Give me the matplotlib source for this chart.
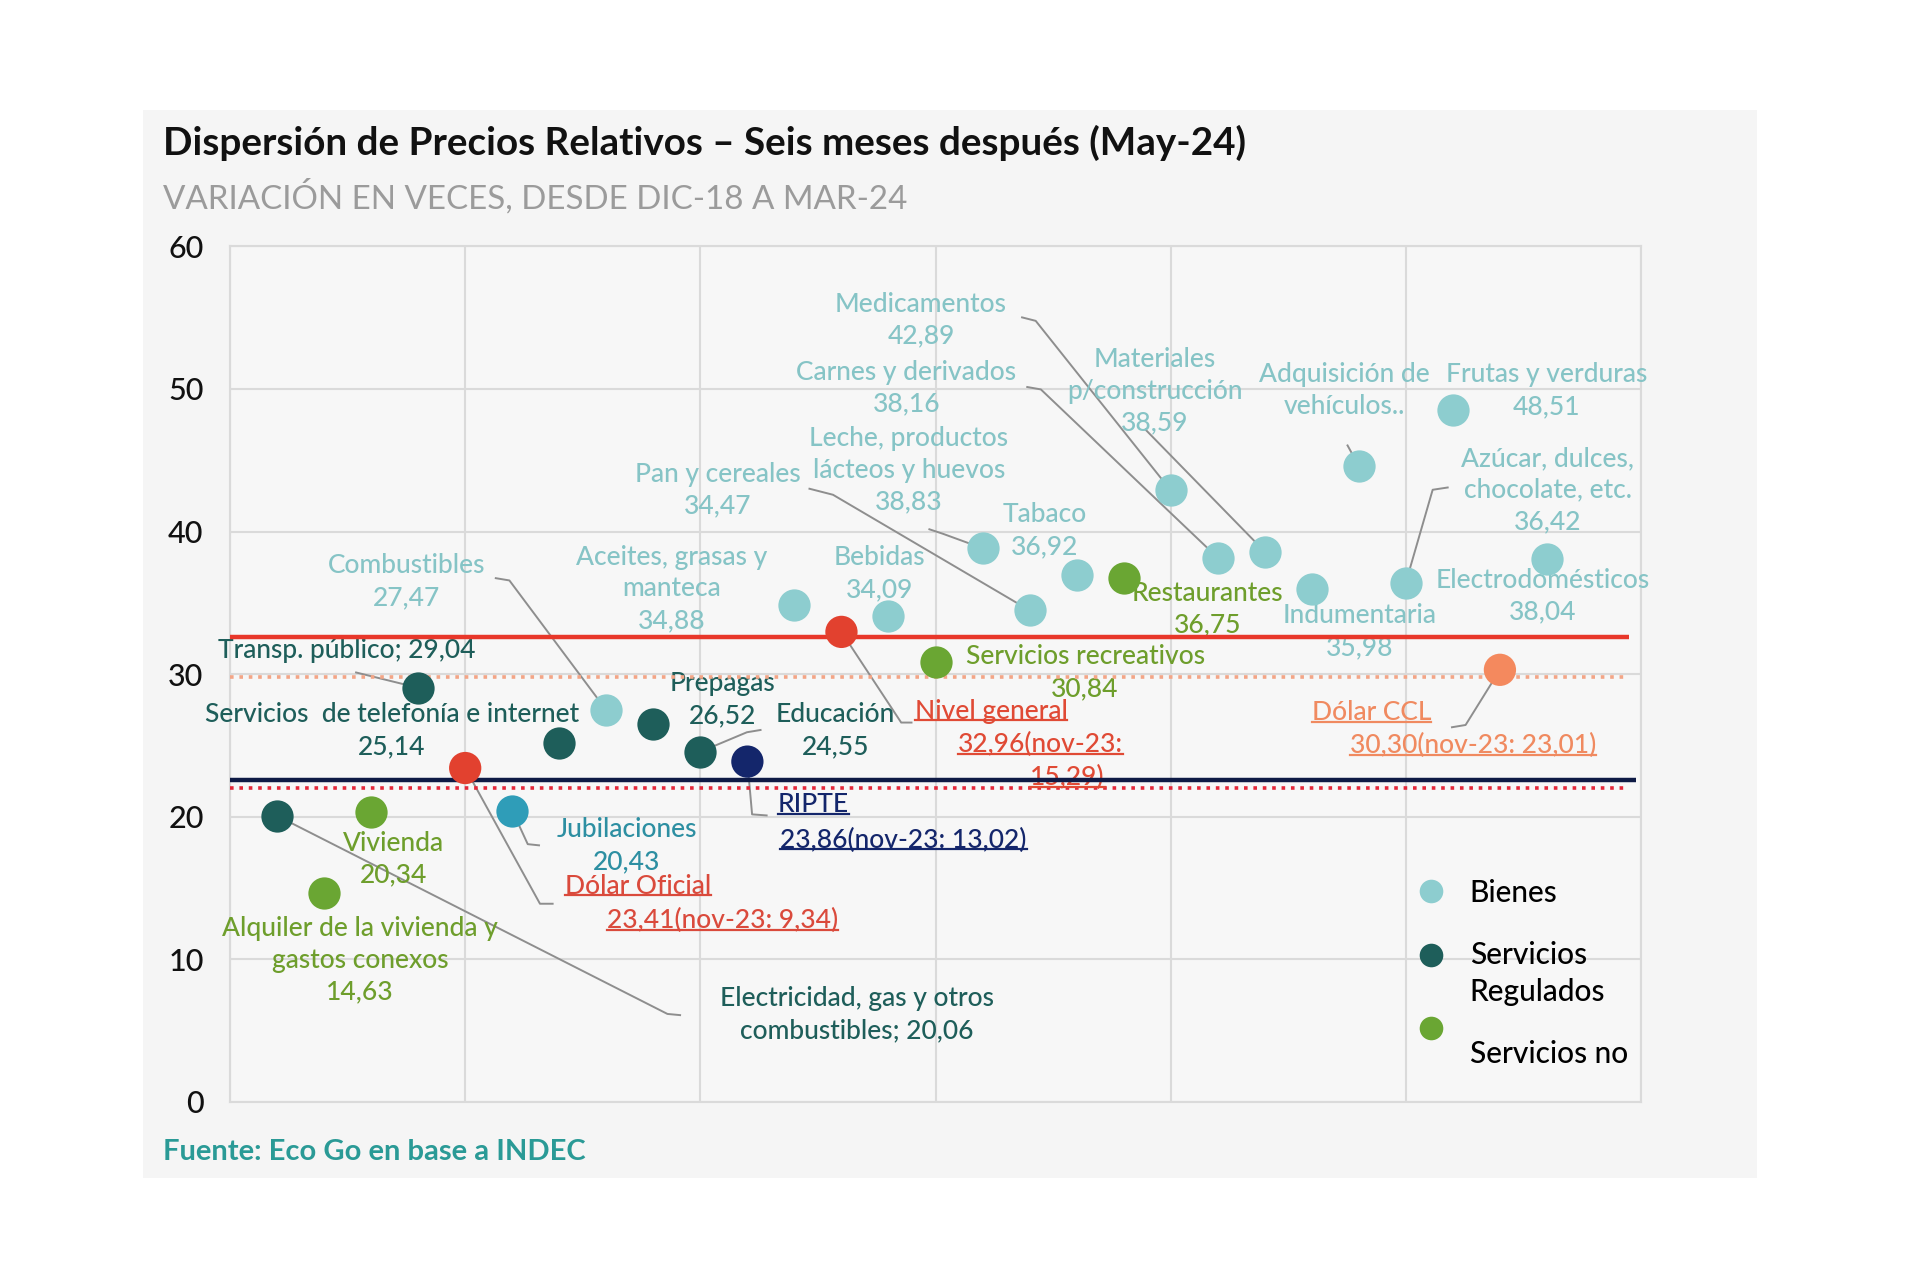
import matplotlib.pyplot as plt
from matplotlib.lines import Line2D
from matplotlib.patches import Rectangle
from matplotlib.legend_handler import HandlerLine2D

plt.rcParams['font.family'] = ['Lato', 'DejaVu Sans']

# ---- datos (variación en veces, dic-18 a mar-24) ----
bienes_x = [8, 12, 14, 16, 17, 18, 20, 21, 22, 23, 24, 25, 26, 28]
bienes_y = [27.47, 34.88, 34.09, 38.83, 34.47, 36.92, 42.89, 38.16, 38.59, 35.98, 44.6, 36.42, 48.51, 38.04]
bienes_txt = ["Combustibles\n27,47", "Aceites, grasas y\nmanteca\n34,88", "Bebidas\n34,09",
              "Leche, productos\nlácteos y huevos\n38,83", "Pan y cereales\n34,47", "Tabaco\n36,92",
              "Medicamentos\n42,89", "Carnes y derivados\n38,16", "Materiales\np/construcción\n38,59",
              "Indumentaria\n35,98", "Adquisición de\nvehículos..", "Azúcar, dulces,\nchocolate, etc.\n36,42",
              "Frutas y verduras\n48,51", "Electrodomésticos\n38,04"]

reg_x = [1, 4, 7, 9, 10]
reg_y = [20.06, 29.04, 25.14, 26.52, 24.55]
reg_txt = ["Electricidad, gas y otros\ncombustibles; 20,06", "Transp. público; 29,04",
           "Servicios  de telefonía e internet\n25,14", "Prepagas\n26,52", "Educación\n24,55"]

nreg_x = [2, 3, 15, 19]
nreg_y = [14.63, 20.34, 30.84, 36.75]
nreg_txt = ["Alquiler de la vivienda y\ngastos conexos\n14,63", "Vivienda\n20,34",
            "Servicios recreativos\n30,84", "Restaurantes\n36,75"]

jub_x, jub_y = 6, 20.43

# indicadores: Dólar Oficial, RIPTE, Nivel general, Dólar CCL
ind_x = [5, 11, 13, 27]
ind_y = [23.41, 23.86, 32.96, 30.30]
ind_nov23 = ["9,34", "13,02", "15,29", "23,01"]

# líneas de referencia (nivel tal como se ven en el gráfico)
ref_nivel = 32.6
ref_ccl = 29.8
ref_ripte = 22.6
ref_oficial = 22.0

# ---- colores ----
c_bien = '#8DCDCF'
c_bien_t = '#86C4C6'
c_reg = '#1E5E5A'
c_nreg = '#6AA633'
c_nreg_t = '#6E9E2C'
c_jub = '#2F9DB8'
c_rojo = '#E2412F'
c_navy = '#14266B'
c_ccl = '#F4895E'
c_lead = '#8E8E8E'

fig = plt.figure(figsize=(19.2, 12.69), dpi=100, facecolor='white')
fig.patches.append(Rectangle((0.0745, 0.0717), 0.8405, 0.8416, transform=fig.transFigure,
                             facecolor='#F5F5F5', edgecolor='none', zorder=-5))
ax = fig.add_axes([0.1198, 0.1318, 0.7349, 0.6740])
ax.set_facecolor('#F7F7F7')
ax.set_xlim(0, 30)
ax.set_ylim(0, 60)
ax.set_xticks(range(0, 31, 5))
ax.set_xticklabels([])
ax.set_yticks(range(0, 61, 10))
ax.tick_params(length=0, labelsize=22, pad=19, labelcolor='#111111')
for lb in ax.get_yticklabels():
    lb.set_fontweight('medium')
ax.grid(True, color='#DADADA', lw=1.5)
ax.set_axisbelow(True)
for s in ax.spines.values():
    s.set_color('#DADADA')
    s.set_linewidth(1.5)

# líneas horizontales (por encima de los textos, debajo de los puntos)
ax.hlines(ref_nivel, 0, 29.75, color='#E8372A', lw=3.2, zorder=3.5)
ax.hlines(ref_ccl, 0, 29.7, color='#F3A586', lw=2.6, ls=(0, (1, 1.6)), zorder=3.5)
ax.hlines(ref_ripte, 0, 29.9, color='#0E1A45', lw=3.2, zorder=3.5)
ax.hlines(ref_oficial, 0, 29.7, color='#E3283A', lw=2.6, ls=(0, (1, 1.6)), zorder=3.5)

# ---- guías de etiquetas ----
def guia(pts, xp, yp):
    xs = [p[0] for p in pts] + [xp]
    ys = [p[1] for p in pts] + [yp]
    ax.plot(xs, ys, color=c_lead, lw=1.4, zorder=2.5, solid_capstyle='butt')

guia([(5.63, 36.74), (5.94, 36.57)], bienes_x[0], bienes_y[0])
guia([(11.74, 35.34)], bienes_x[1], bienes_y[1])
guia([(14.85, 40.18), (15.16, 39.84)], bienes_x[3], bienes_y[3])
guia([(12.30, 43.02), (12.82, 42.58)], bienes_x[4], bienes_y[4])
guia([(16.82, 55.04), (17.13, 54.78)], bienes_x[6], bienes_y[6])
guia([(16.93, 50.15), (17.24, 49.97)], bienes_x[7], bienes_y[7])
guia([(19.45, 47.2)], bienes_x[8], bienes_y[8])
guia([(23.75, 46.1)], bienes_x[10], bienes_y[10])
guia([(25.91, 43.1), (25.57, 42.93)], bienes_x[11], bienes_y[11])
guia([(9.59, 6.07), (9.30, 6.16)], reg_x[0], reg_y[0])
guia([(2.66, 30.13)], reg_x[1], reg_y[1])
guia([(11.30, 26.09), (10.99, 25.92)], reg_x[4], reg_y[4])
guia([(6.59, 17.98), (6.33, 18.07)], jub_x, jub_y)
guia([(6.88, 13.89), (6.59, 13.89)], ind_x[0], ind_y[0])
guia([(11.43, 20.08), (11.10, 20.16)], ind_x[1], ind_y[1])
guia([(14.51, 26.6), (14.27, 26.6)], ind_x[2], ind_y[2])
guia([(25.96, 26.26), (26.27, 26.43)], ind_x[3], ind_y[3])

# ---- puntos ----
ms = 540
ax.scatter(bienes_x, bienes_y, s=ms, color=c_bien, zorder=4, linewidths=0)
ax.scatter(reg_x, reg_y, s=ms, color=c_reg, zorder=4, linewidths=0)
ax.scatter(nreg_x, nreg_y, s=ms, color=c_nreg, zorder=4, linewidths=0)
ax.scatter([jub_x], [jub_y], s=ms, color=c_jub, zorder=4, linewidths=0)
ax.scatter(ind_x, ind_y, s=ms, color=[c_rojo, c_navy, c_rojo, c_ccl], zorder=4, linewidths=0)

# ---- etiquetas ----
fs = 19
ls = 1.34
fw = 'medium'
bienes_pos = [(3.75, 36.5), (9.38, 35.97), (13.80, 37.04), (14.43, 44.30), (10.37, 42.89),
              (17.32, 40.05), (14.69, 54.83), (14.38, 50.06), (19.66, 49.83), (24.01, 32.96),
              (23.70, 49.89), (28.02, 42.9), (27.99, 49.89), (27.91, 35.46)]
for t, (px, py) in zip(bienes_txt, bienes_pos):
    ax.text(px, py, t, color=c_bien_t, fontsize=fs, fontweight=fw, ha='center', va='center',
            linespacing=ls, zorder=3)

reg_pos = [(13.33, 6.12), (2.48, 31.67), (3.44, 26.05), (10.47, 28.2), (12.87, 26.05)]
for t, (px, py) in zip(reg_txt, reg_pos):
    ax.text(px, py, t, color=c_reg, fontsize=fs, fontweight=fw, ha='center', va='center',
            linespacing=ls, zorder=3)

nreg_pos = [(2.76, 9.94), (3.47, 17.03), (18.18, 30.1), (20.78, 34.55)]
for t, (px, py) in zip(nreg_txt, nreg_pos):
    ax.text(px, py, t, color=c_nreg_t, fontsize=fs, fontweight=fw, ha='center', va='center',
            linespacing=ls, zorder=3)

ax.text(8.44, 17.97, "Jubilaciones\n20,43", color='#2D8FA2', fontsize=fs, fontweight=fw,
        ha='center', va='center', linespacing=ls, zorder=3)

def fmt(v):
    return f"{v:.2f}".replace('.', ',')

subrayados = []
ind_lineas = [
    [("Dólar Oficial", 8.67, 15.10), (f"{fmt(ind_y[0])}(nov-23: {ind_nov23[0]})", 10.47, 12.69)],
    [("RIPTE", 12.40, 20.85), (f"{fmt(ind_y[1])}(nov-23: {ind_nov23[1]})", 14.32, 18.36)],
    [("Nivel general", 16.18, 27.4), (f"{fmt(ind_y[2])}(nov-23:", 17.24, 25.06),
     (f"{ind_nov23[2]})", 17.81, 22.74)],
    [("Dólar CCL", 24.27, 27.29), (f"{fmt(ind_y[3])}(nov-23: {ind_nov23[3]})", 26.43, 24.97)],
]
ind_col = ['#DA4A3C', c_navy, '#E04A35', '#F08A60']
for lineas, col in zip(ind_lineas, ind_col):
    for t, px, py in lineas:
        tx = ax.text(px, py, t, color=col, fontsize=fs, fontweight=fw, ha='center', va='center',
                     zorder=3)
        subrayados.append((tx, col))

# ---- leyenda ----
class HandlerArriba(HandlerLine2D):
    """desplaza el marcador hacia arriba dentro de su fila"""
    def __init__(self, dy, **kw):
        super().__init__(**kw)
        self.dy = dy

    def create_artists(self, legend, orig_handle, xdescent, ydescent, width, height, fontsize, trans):
        return super().create_artists(legend, orig_handle, xdescent, ydescent - self.dy,
                                      width, height, fontsize, trans)

h_bien = Line2D([], [], marker='o', ls='', ms=17, color=c_bien, mew=0)
h_reg = Line2D([], [], marker='o', ls='', ms=17, color=c_reg, mew=0)
h_nreg = Line2D([], [], marker='o', ls='', ms=17, color=c_nreg, mew=0)
leg = ax.legend([h_bien, h_reg, h_nreg], ["Bienes", "Servicios\nRegulados", "Servicios no"],
                loc='upper left', bbox_to_anchor=(0.83, 0.278), frameon=False, fontsize=21.5,
                handlelength=1.0, handletextpad=0.8, labelspacing=1.15, borderpad=0,
                handler_map={h_reg: HandlerArriba(28), h_nreg: HandlerArriba(35)})
for t in leg.get_texts():
    t.set_fontweight('medium')
    t.set_linespacing(1.36)

# ---- títulos ----
fig.text(0.0849, 0.8873, "Dispersión de Precios Relativos – Seis meses después (May-24)",
         fontsize=27.8, fontweight='bold', color='#111111', va='center', ha='left')
fig.text(0.0849, 0.8447, "VARIACIÓN EN VECES, DESDE DIC-18 A MAR-24",
         fontsize=23.9, color='#9B9B9B', va='center', ha='left')
fig.text(0.0849, 0.0922, "Fuente: Eco Go en base a INDEC",
         fontsize=21, color='#2A9A96', fontweight='bold', va='center', ha='left')

# subrayado de los indicadores
fig.canvas.draw()
r = fig.canvas.get_renderer()
W, H = fig.bbox.width, fig.bbox.height
for tx, col in subrayados:
    bb = tx.get_window_extent(r)
    yy = bb.y0 + 0.14 * bb.height
    fig.add_artist(Line2D([bb.x0 / W, bb.x1 / W], [yy / H, yy / H], color=col, lw=1.6,
                          transform=fig.transFigure, zorder=3))

fig.savefig('out.png', dpi=100, facecolor='white')
